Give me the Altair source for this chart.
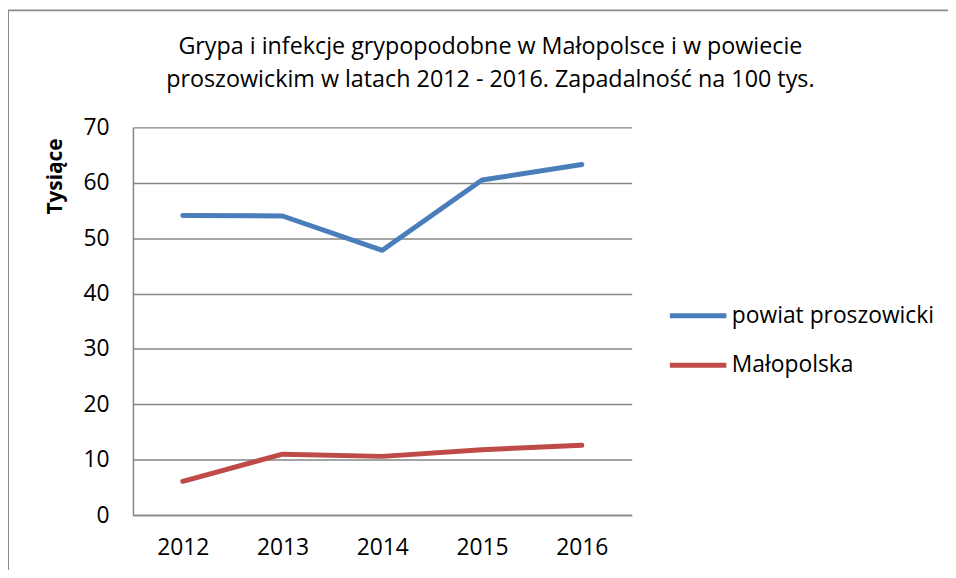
import altair as alt
import pandas as pd

years = ["2012", "2013", "2014", "2015", "2016"]
powiat = [54.1, 54.0, 47.8, 60.5, 63.3]
malopolska = [6.1, 11.0, 10.6, 11.8, 12.6]
series = ["powiat proszowicki", "Małopolska"]
colors = ["#4A7EBB", "#BE4B48"]
title_lines = [
    "Grypa i infekcje grypopodobne w Małopolsce i w powiecie",
    "proszowickim w latach 2012 - 2016. Zapadalność na 100 tys.",
]
y_ticks = [0, 10, 20, 30, 40, 50, 60, 70]

rows = []
for name, vals in zip(series, [powiat, malopolska]):
    for yr, v in zip(years, vals):
        rows.append({"rok": yr, "wartosc": v, "seria": name})
df = pd.DataFrame(rows)

FONT = "Open Sans"
GRID = "#868686"

border = alt.Chart(pd.DataFrame({"a": [0]})).mark_rect(
    fill="transparent", stroke="#8a8a8a", strokeWidth=2
).encode(
    x=alt.value(-126), y=alt.value(-118), x2=alt.value(1500), y2=alt.value(1500)
)

lines = alt.Chart(df).mark_line(
    strokeWidth=5, strokeCap="round", strokeJoin="round"
).encode(
    x=alt.X(
        "rok:O",
        sort=years,
        scale=alt.Scale(type="point", padding=0.5),
        axis=alt.Axis(
            title=None, labelAngle=0, ticks=False, grid=False,
            domainColor=GRID, domainWidth=1.5,
            labelFontSize=23, labelFont=FONT, labelColor="black",
            labelPadding=22,
        ),
    ),
    y=alt.Y(
        "wartosc:Q",
        scale=alt.Scale(domain=[0, 70], nice=False),
        axis=alt.Axis(
            values=y_ticks, ticks=False, grid=True,
            gridColor=GRID, gridWidth=1.5,
            domainColor=GRID, domainWidth=1.5,
            labelFontSize=23, labelFont=FONT, labelColor="black",
            labelPadding=24,
            title="Tysiące", titleFont=FONT, titleFontSize=21,
            titleFontWeight="bold", titleColor="black",
            titleAngle=270, titleX=-78, titleY=49,
            titleAlign="center", titleBaseline="middle",
        ),
    ),
    color=alt.Color(
        "seria:N",
        sort=series,
        scale=alt.Scale(domain=series, range=colors),
        legend=alt.Legend(
            title=None, orient="none", legendX=539, legendY=159,
            symbolType="stroke", symbolSize=3249, symbolStrokeWidth=5,
            labelFontSize=23, labelFont=FONT, labelColor="black",
            labelOffset=3, rowPadding=7, padding=0, labelLimit=400,
        ),
    ),
)

chart = alt.layer(border, lines).properties(
    width=503,
    height=391,
    autosize=alt.AutoSizeParams(type="none"),
    padding={"left": 126, "top": 118, "right": 319, "bottom": 53},
    title=alt.TitleParams(
        text=title_lines, font=FONT, fontSize=23.5, fontWeight="normal",
        color="black", anchor="middle", frame="group", dx=109,
        offset=0, dy=83, lineHeight=33,
    ),
).configure_view(stroke="transparent")

chart.save("out.html", embed_options={"renderer": "svg", "actions": False})
